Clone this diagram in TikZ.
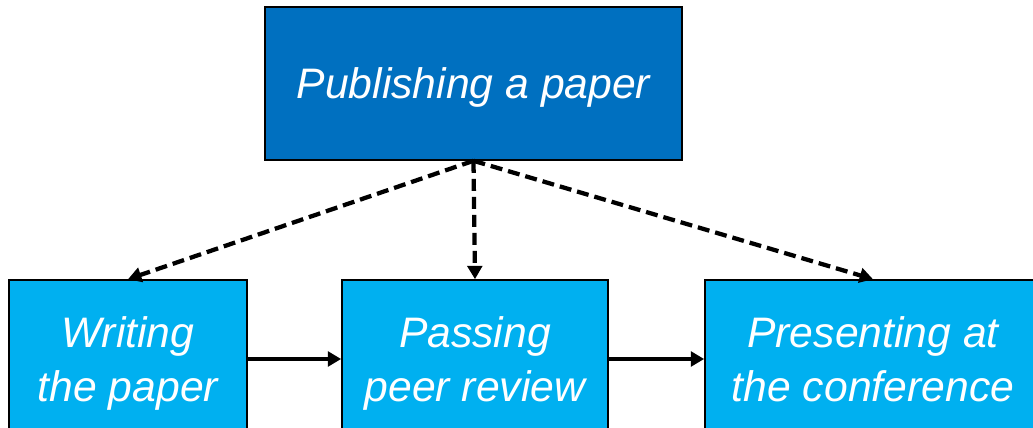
\documentclass[tikz,border=0pt]{standalone}
\usepackage{fontspec}
\setmainfont{Liberation Sans}
\usetikzlibrary{arrows.meta}

\definecolor{topblue}{HTML}{0070C0}
\definecolor{stepblue}{HTML}{00B0F0}

\tikzset{
  box/.style={draw=black, line width=1.2pt, text=white, align=center,
    font=\fontsize{32}{40}\selectfont\itshape, inner sep=0pt, text depth=0pt},
  goal/.style={box, fill=topblue, minimum width=312.75pt, minimum height=114.75pt},
  stepbox/.style={box, fill=stepblue, minimum height=118.5pt},
  link/.style={line width=3.2pt, -{Triangle[length=10pt,width=11pt]}},
  sublink/.style={link, dash pattern=on 9pt off 4.5pt}
}

\begin{document}
\begin{tikzpicture}[x=0.75pt, y=-0.75pt] % units are pixels, y downwards
    % Frame
    \clip (0,0) rectangle (1033,428);

    % Goal on top
    \node[goal] (publish) at (473.5,83.5) {Publishing a paper};

    % The three steps
    \node[stepbox, minimum width=178.5pt] (write) at (128,359) {Writing\\the paper};
    \node[stepbox, minimum width=199.5pt] (review) at (475,359) {Passing\\peer review};
    \node[stepbox, minimum width=252pt] (present) at (873,359) {Presenting at\\the conference};

    % Dashed arrows from the goal
    \draw[sublink] (publish.south) -- (write.north);
    \draw[sublink] (publish.south) -- (review.north);
    \draw[sublink] (publish.south) -- (present.north);

    % Order of the steps
    \draw[link] (write) -- (review);
    \draw[link] (review) -- (present);
\end{tikzpicture}
\end{document}
